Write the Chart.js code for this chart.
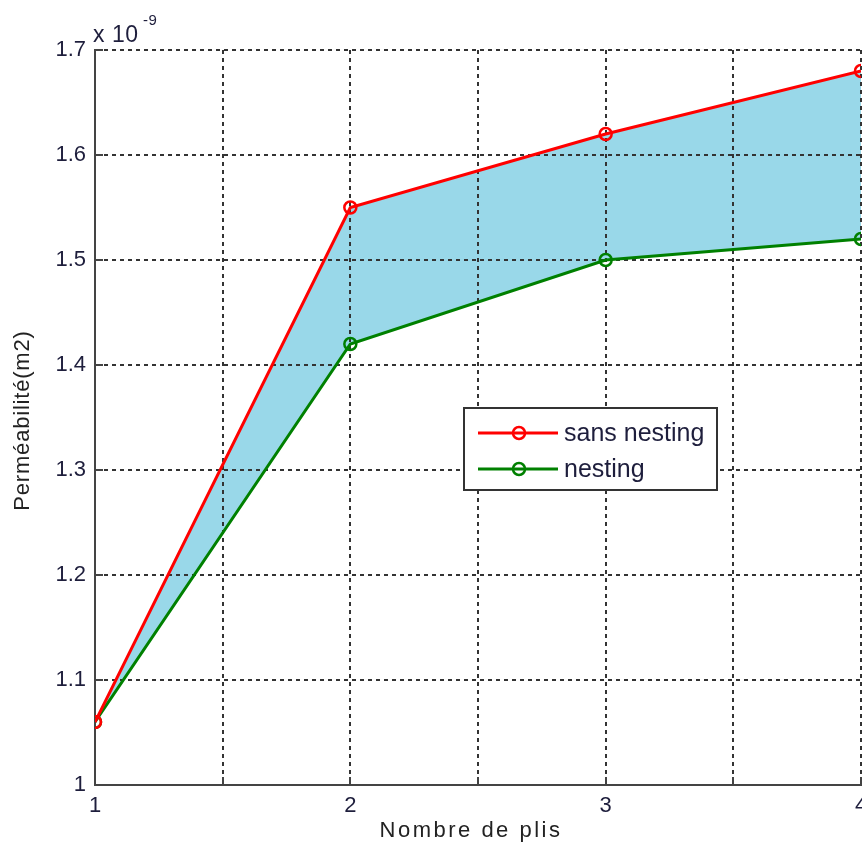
<!DOCTYPE html>
<html>
<head>
<meta charset="utf-8">
<script src="https://cdn.jsdelivr.net/npm/chart.js@4.4.0/dist/chart.umd.min.js"></script>
<style>
  html, body { margin: 0; padding: 0; background: #fff; overflow: hidden; }
  #wrap { position: relative; width: 900px; height: 845px; }
</style>
</head>
<body>
<div id="wrap"><canvas id="chart" width="900" height="845"></canvas></div>
<script>
// data (y values in units of 10^-9 m2)
const plis = [1, 2, 3, 4];
const sansNesting = [1.06, 1.55, 1.62, 1.68];
const nesting = [1.06, 1.42, 1.50, 1.52];
const xTickLabels = [1, 2, 3, 4];
const yTickLabels = [1, 1.1, 1.2, 1.3, 1.4, 1.5, 1.6, 1.7];
const exponent = '-9';
const xTitle = 'Nombre de plis';
const yTitle = 'Perméabilité(m2)';

const FONT = '"Liberation Sans", Arial, sans-serif';
const fillBlue = 'rgb(153,216,233)';
const tickColor = '#1e1e3c';

const decorations = {
  id: 'decorations',
  afterDraw(chart) {
    const { ctx, chartArea: a, scales: { x, y } } = chart;
    ctx.save();

    // inward tick marks
    ctx.strokeStyle = '#444';
    ctx.lineWidth = 2;
    x.ticks.forEach(t => {
      const px = Math.round(x.getPixelForValue(t.value));
      ctx.beginPath(); ctx.moveTo(px, a.bottom); ctx.lineTo(px, a.bottom - 8); ctx.stroke();
    });
    y.ticks.forEach(t => {
      const py = Math.round(y.getPixelForValue(t.value));
      ctx.beginPath(); ctx.moveTo(a.left, py); ctx.lineTo(a.left + 8, py); ctx.stroke();
    });

    // exponent label
    ctx.fillStyle = tickColor;
    ctx.textAlign = 'left';
    ctx.textBaseline = 'alphabetic';
    ctx.font = '23px ' + FONT;
    ctx.letterSpacing = '0.5px';
    ctx.fillText('x 10', a.left - 2, a.top - 8);
    ctx.font = '15px ' + FONT;
    ctx.fillText(exponent, a.left + 48, a.top - 25);

    // axis titles
    ctx.fillStyle = '#222';
    ctx.textAlign = 'center';
    ctx.textBaseline = 'middle';
    ctx.font = '22px ' + FONT;
    ctx.letterSpacing = '2.5px';
    ctx.fillText(xTitle, 471, 831);
    ctx.letterSpacing = '0.8px';
    ctx.save();
    ctx.translate(23, (a.top + a.bottom) / 2 + 3);
    ctx.rotate(-Math.PI / 2);
    ctx.fillText(yTitle, 0, 0);
    ctx.restore();
    ctx.letterSpacing = '0px';

    // legend box
    const bx = 464, by = 408, bw = 253, bh = 82;
    ctx.fillStyle = '#fff';
    ctx.fillRect(bx, by, bw, bh);
    ctx.strokeStyle = '#333';
    ctx.lineWidth = 2;
    ctx.strokeRect(bx, by, bw, bh);
    chart.data.datasets.forEach((ds, i) => {
      const ly = by + 25 + i * 36;
      ctx.strokeStyle = ds.borderColor;
      ctx.lineWidth = 3;
      ctx.beginPath(); ctx.moveTo(bx + 14, ly); ctx.lineTo(bx + 94, ly); ctx.stroke();
      ctx.lineWidth = 2.5;
      ctx.beginPath(); ctx.arc(bx + 55, ly, 6, 0, Math.PI * 2); ctx.stroke();
      ctx.fillStyle = tickColor;
      ctx.textAlign = 'left';
      ctx.font = '25px ' + FONT;
      ctx.fillText(ds.label, bx + 100, ly + 1);
    });

    ctx.restore();
  }
};

new Chart(document.getElementById('chart').getContext('2d'), {
  type: 'line',
  data: {
    datasets: [
      {
        label: 'sans nesting',
        data: plis.map((p, i) => ({ x: p, y: sansNesting[i] })),
        borderColor: '#ff0000',
        backgroundColor: fillBlue,
        borderWidth: 3,
        pointRadius: 6,
        pointBorderWidth: 2.5,
        pointBackgroundColor: 'rgba(0,0,0,0)',
        pointBorderColor: '#ff0000',
        fill: { target: 1 },
        tension: 0
      },
      {
        label: 'nesting',
        data: plis.map((p, i) => ({ x: p, y: nesting[i] })),
        borderColor: '#008000',
        backgroundColor: '#008000',
        borderWidth: 3,
        pointRadius: 6,
        pointBorderWidth: 2.5,
        pointBackgroundColor: 'rgba(0,0,0,0)',
        pointBorderColor: '#008000',
        fill: false,
        tension: 0
      }
    ]
  },
  options: {
    responsive: false,
    animation: false,
    layout: { padding: { top: 50, right: 39, left: 0, bottom: 0 } },
    plugins: {
      legend: { display: false },
      tooltip: { enabled: false },
      filler: { drawTime: 'beforeDraw' }
    },
    scales: {
      x: {
        type: 'linear',
        min: 1,
        max: 4,
        afterFit: s => { s.height = 60; },
        grid: { color: '#333', lineWidth: 2, drawTicks: false },
        border: { display: true, color: '#444', width: 2, dash: [4, 4] },
        ticks: {
          stepSize: 0.5,
          padding: 8,
          color: tickColor,
          font: { family: FONT, size: 22 },
          maxRotation: 0,
          autoSkip: false,
          callback: v => xTickLabels.includes(v) ? String(v) : ''
        }
      },
      y: {
        min: 1,
        max: 1.7,
        afterFit: s => { s.width = 95; },
        grid: { color: '#333', lineWidth: 2, drawTicks: false },
        border: { display: true, color: '#444', width: 2, dash: [4, 4] },
        ticks: {
          stepSize: 0.1,
          padding: 9,
          color: tickColor,
          font: { family: FONT, size: 22 },
          autoSkip: false,
          callback: v => {
            const r = Math.round(v * 10) / 10;
            return yTickLabels.includes(r) ? String(r) : '';
          }
        }
      }
    }
  },
  plugins: [decorations]
});
</script>
</body>
</html>
